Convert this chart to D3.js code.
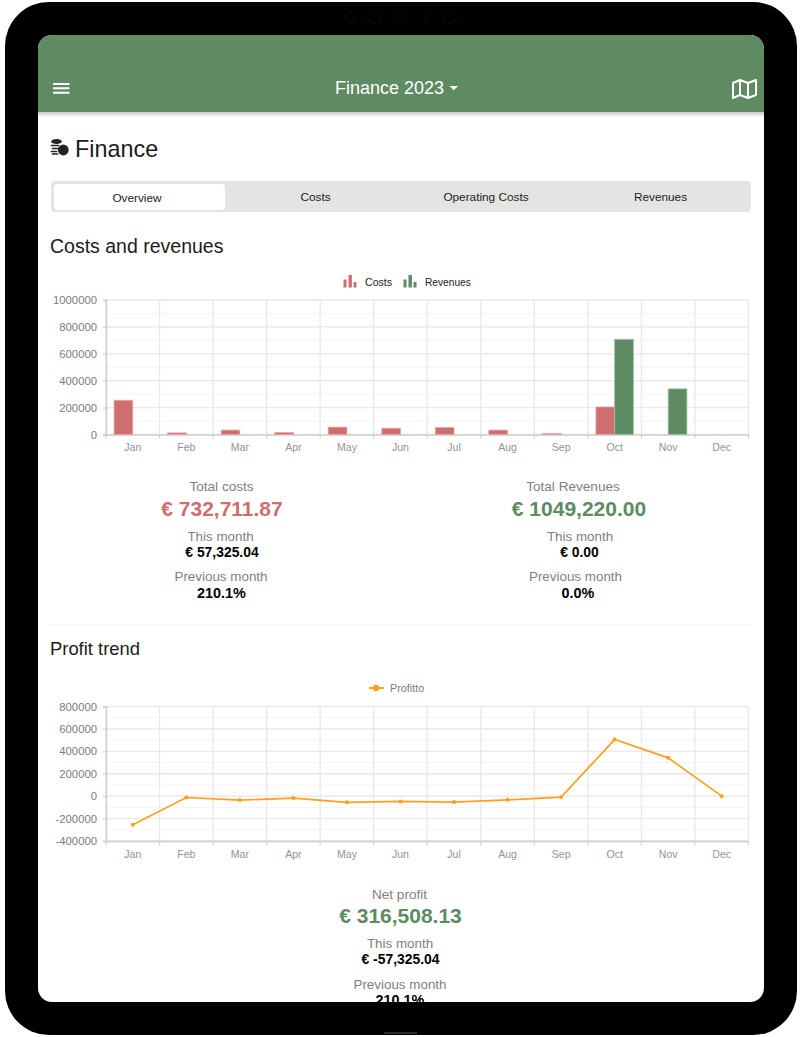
<!DOCTYPE html>
<html><head><meta charset="utf-8">
<script src="https://cdn.jsdelivr.net/npm/d3@7"></script>
<style>
html,body{margin:0;padding:0;background:#fff;overflow:hidden}
svg{display:block}
text{font-family:"Liberation Sans",Arial,sans-serif}
.grid-major{stroke:#e9e9e9;stroke-width:1.3}
.grid-minor{stroke:#f4f4f4;stroke-width:1}
.axis text{font-family:"Liberation Sans",Arial,sans-serif}
.axis path{stroke:#cccccc;stroke-width:1.4}
.axis line{stroke:#cccccc;stroke-width:1.1}
</style></head><body>
<svg id="s" width="800" height="1037"></svg>
<script>
const months=["Jan","Feb","Mar","Apr","May","Jun","Jul","Aug","Sep","Oct","Nov","Dec"];
const costs=[255000,12000,33000,15000,55000,47000,53000,33000,8000,205000,0,0];
const revenues=[0,0,0,0,0,0,0,0,0,708000,339000,0];
const profit=[-255000,-12000,-35000,-17000,-55000,-47000,-53000,-33000,-8000,505000,342000,0];
const barTicks=[0,200000,400000,600000,800000,1000000];
const lineTicks=[-400000,-200000,0,200000,400000,600000,800000];
const tabs=["Overview","Costs","Operating Costs","Revenues"];
const tabCenters=[137,315.5,486,660.5];

const RED="#cf6e6e",GREEN="#5f8b63",ORANGE="#ff9f1f",HEAD="#5f8b63";
const svg=d3.select("#s");
const defs=svg.append("defs");
defs.append("clipPath").attr("id","screen").append("rect").attr("x",38).attr("y",35).attr("width",726).attr("height",967).attr("rx",14);
const sh=defs.append("linearGradient").attr("id","shadow").attr("x1",0).attr("x2",0).attr("y1",0).attr("y2",1);
sh.append("stop").attr("offset",0).attr("stop-color","#000").attr("stop-opacity",.22);
sh.append("stop").attr("offset",1).attr("stop-color","#000").attr("stop-opacity",0);

// device
svg.append("rect").attr("x",5).attr("y",2).attr("width",792).attr("height",1033).attr("rx",44).attr("fill","#000");
[[350,17,5],[374,17,6.5],[400,17,5],[426,17,2],[450,17,6.5]].forEach(c=>svg.append("circle").attr("cx",c[0]).attr("cy",c[1]).attr("r",c[2]).attr("fill","none").attr("stroke","#0e0e0e").attr("stroke-width",1));
svg.append("rect").attr("x",384).attr("y",1032).attr("width",33).attr("height",2).attr("fill","#2b2b2b");

const g=svg.append("g").attr("clip-path","url(#screen)");
g.append("rect").attr("x",38).attr("y",35).attr("width",726).attr("height",967).attr("fill","#fff");
g.append("rect").attr("x",38).attr("y",35).attr("width",726).attr("height",77).attr("fill",HEAD);
g.append("rect").attr("x",38).attr("y",112).attr("width",726).attr("height",5).attr("fill","url(#shadow)");

function T(x,y,s,size,fill,anchor,weight){
  return g.append("text").attr("x",x).attr("y",y).attr("font-size",size).attr("fill",fill)
    .attr("text-anchor",anchor||"middle").attr("font-weight",weight||"normal").text(s);
}
// header
[84,88.3,92.7].forEach(y=>g.append("rect").attr("x",53).attr("y",y-1).attr("width",16.5).attr("height",2).attr("rx",.6).attr("fill","#fff"));
T(335,94,"Finance 2023",18,"#fff","start");
g.append("path").attr("d","M449.5 86h8.5l-4.25 4.25z").attr("fill","#fff");
g.append("path").attr("d","M733 83l7-3 8 3 8-3v15l-8 3-8-3-7 3zM740 80v15M748 83v15").attr("fill","none").attr("stroke","#fff").attr("stroke-width",2).attr("stroke-linejoin","round");

// title and coins
g.append("ellipse").attr("cx",56.5).attr("cy",141.5).attr("rx",5.3).attr("ry",2.6).attr("fill","#222");
[145.5,148.5,151.5,154].forEach((y,i)=>g.append("path").attr("d",`M${51.5+(i%2)} ${y}h${i<2?7:5}`).attr("stroke","#222").attr("stroke-width",1.7).attr("stroke-linecap","round"));
g.append("circle").attr("cx",63.3).attr("cy",150).attr("r",5.4).attr("fill","#222");
T(75,157,"Finance",23.4,"#1c1c1c","start");

// tabs
g.append("rect").attr("x",51).attr("y",181).attr("width",700).attr("height",31).attr("rx",4).attr("fill","#e4e5e3");
g.append("rect").attr("x",54).attr("y",184).attr("width",171).attr("height",26).attr("rx",4).attr("fill","#fff");
tabs.forEach((t,i)=>T(tabCenters[i],i?201:202,t,11.8,"#222"));

T(50,253,"Costs and revenues",19.5,"#1c1c1c","start");
T(50,655,"Profit trend",18.4,"#1c1c1c","start");
g.append("line").attr("x1",50).attr("x2",750).attr("y1",625).attr("y2",625).attr("stroke","#eeeeee");

function frame(x,y,ticks,minorCount){
  const c=g.append("g");
  c.selectAll(".mn").data(y.ticks(minorCount)).join("line").attr("class","grid-minor")
    .attr("x1",x.range()[0]).attr("x2",x.range()[1]).attr("y1",d=>y(d)).attr("y2",d=>y(d));
  c.selectAll(".mj").data(ticks).join("line").attr("class","grid-major")
    .attr("x1",x.range()[0]).attr("x2",x.range()[1]).attr("y1",d=>y(d)).attr("y2",d=>y(d));
  const edges=x.domain().map(m=>x(m)).concat(x.range()[1]);
  c.selectAll(".v").data(edges).join("line").attr("class","grid-major")
    .attr("x1",d=>d).attr("x2",d=>d).attr("y1",y.range()[1]).attr("y2",y.range()[0]);
  c.append("g").attr("class","axis").attr("transform",`translate(${x.range()[0]},0)`)
    .call(d3.axisLeft(y).tickValues(ticks).tickSize(3).tickPadding(6).tickFormat(d=>String(d)))
    .call(a=>a.selectAll("text").attr("font-size",11.3).attr("fill","#7c7c7c"))
    .call(a=>a.select("path").attr("stroke-width",1.8));
  const ax=c.append("g").attr("class","axis").attr("transform",`translate(0,${y.range()[0]})`)
    .call(d3.axisBottom(x).tickSize(0).tickPadding(9))
    .call(a=>a.selectAll("text").attr("font-size",10.6).attr("fill","#949494"));
  ax.selectAll(".edge").data(edges).join("line").attr("class","edge").attr("x1",d=>d).attr("x2",d=>d).attr("y1",0).attr("y2",4);
}

// bar chart
const x1=d3.scaleBand().domain(months).range([106,748.5]);
const y1=d3.scaleLinear().domain([0,1000000]).range([434.5,300]);
const sub=d3.scaleBand().domain(["costs","revenues"]).range([0,x1.bandwidth()]).paddingOuter(.43).paddingInner(0);
frame(x1,y1,barTicks,10);
[["costs",costs,RED,"#e9a9a9"],["revenues",revenues,GREEN,"#9dc0a0"]].forEach(([k,vals,col,edge])=>{
  g.append("g").selectAll("rect").data(months.map((m,i)=>({m,v:vals[i]})).filter(d=>d.v>0)).join("rect")
    .attr("x",d=>x1(d.m)+sub(k)).attr("width",sub.bandwidth())
    .attr("y",d=>y1(d.v)).attr("height",d=>y1(0)-y1(d.v))
    .attr("fill",col).attr("stroke",edge).attr("stroke-width",.8);
});
function legendBars(x,col){
  [[0,279.5,3],[5,275,3.4],[10,282,3]].forEach(b=>g.append("rect").attr("x",x+b[0]).attr("y",b[1]).attr("width",b[2]).attr("height",287.5-b[1]).attr("fill",col));
}
legendBars(343.5,RED);legendBars(403.5,GREEN);
T(365,285.5,"Costs",10.6,"#222","start");
T(425,285.5,"Revenues",10.2,"#222","start");

// line chart
const x2=d3.scalePoint().domain(months).range([106,748.5]).padding(.5);
const x2b=d3.scaleBand().domain(months).range([106,748.5]);
const y2=d3.scaleLinear().domain([-400000,800000]).range([841,706.5]);
frame(x2b,y2,lineTicks,12);
const pts=months.map((m,i)=>({m,v:profit[i]}));
g.append("path").datum(pts).attr("fill","none").attr("stroke",ORANGE).attr("stroke-width",1.7)
  .attr("d",d3.line().x(d=>x2(d.m)).y(d=>y2(d.v)));
g.append("g").selectAll("circle").data(pts).join("circle").attr("cx",d=>x2(d.m)).attr("cy",d=>y2(d.v)).attr("r",2).attr("fill",ORANGE);
g.append("line").attr("x1",369).attr("x2",384).attr("y1",688).attr("y2",688).attr("stroke",ORANGE).attr("stroke-width",2);
g.append("circle").attr("cx",376).attr("cy",688).attr("r",3.2).attr("fill",ORANGE);
T(390,692,"Profitto",10.8,"#7c7c7c","start");

// stats: each line carries its own centre, as the reference does
function stat(cx,ys,label,big,col,v1,v2){
  T(cx[0],ys[0],label,13.6,"#7f7f7f");
  T(cx[1],ys[1],big,21,col,"middle","bold");
  T(cx[2],ys[2],"This month",13.4,"#7f7f7f");
  T(cx[3],ys[3],v1,13.9,"#000","middle","bold");
  T(cx[4],ys[4],"Previous month",13.4,"#7f7f7f");
  T(cx[5],ys[5],v2,14.4,"#000","middle","bold");
}
const ysTop=[491,515.5,541,557,581,598],ysNet=[899,922.5,948,964,989,1005];
stat([221.5,222,220.5,222,221,221.5],ysTop,"Total costs","€ 732,711.87",RED,"€ 57,325.04","210.1%");
stat([573,579,580,579.5,575.5,578],ysTop,"Total Revenues","€ 1049,220.00",GREEN,"€ 0.00","0.0%");
stat([399.5,400.5,400,400.5,400,400],ysNet,"Net profit","€ 316,508.13",GREEN,"€ -57,325.04","210.1%");
</script>
</body></html>
